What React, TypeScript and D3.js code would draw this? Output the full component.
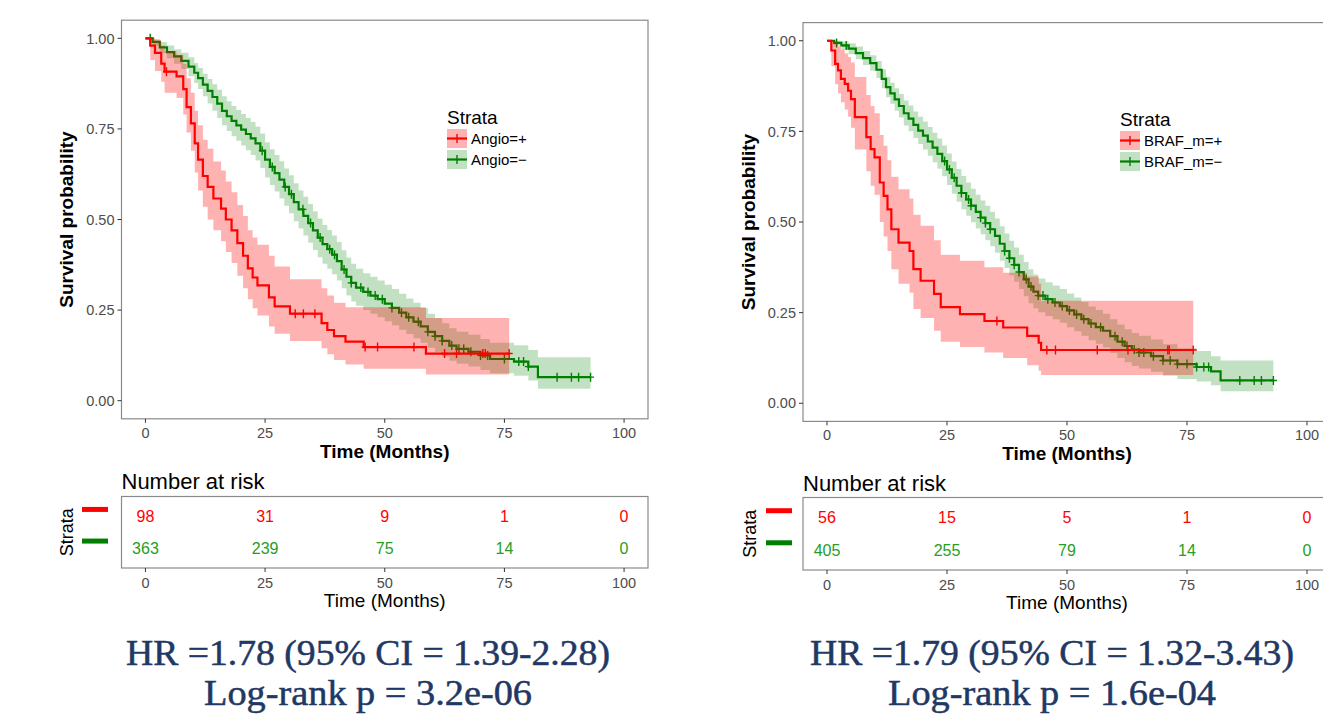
import React from 'react';
import * as d3 from 'd3';

// ---------- values ----------
const xTicks = [0, 25, 50, 75, 100];
const yTicks = [0, 0.25, 0.5, 0.75, 1];
const riskTimes = [0, 25, 50, 75, 100];

// Angio=+ (red)
const angioPosTime = [0, 1.0, 2.0, 3.3, 4.0, 6.5, 7.9, 8.6, 9.5, 10.3, 11.0, 12.0, 13.0, 14.2, 15.8, 16.8, 18.0, 19.2, 20.4, 21.4, 22.4, 23.4, 25.8, 27.0, 30.2, 36.8, 38.0, 39.4, 41.8, 45.6, 58.6];
const angioPosSurv = [1.0, 0.98, 0.96, 0.93, 0.908, 0.895, 0.86, 0.81, 0.765, 0.71, 0.665, 0.62, 0.59, 0.558, 0.53, 0.5, 0.47, 0.435, 0.4, 0.365, 0.34, 0.318, 0.285, 0.26, 0.24, 0.214, 0.195, 0.178, 0.163, 0.148, 0.13];
const angioPosLower = [1.0, 0.94, 0.91, 0.88, 0.85, 0.835, 0.79, 0.74, 0.69, 0.63, 0.58, 0.535, 0.5, 0.47, 0.44, 0.41, 0.38, 0.345, 0.31, 0.28, 0.255, 0.235, 0.205, 0.185, 0.165, 0.145, 0.128, 0.112, 0.1, 0.088, 0.072];
const angioPosUpper = [1.0, 1.0, 0.995, 0.98, 0.965, 0.955, 0.93, 0.89, 0.85, 0.8, 0.76, 0.72, 0.695, 0.66, 0.635, 0.605, 0.575, 0.54, 0.51, 0.47, 0.45, 0.43, 0.4, 0.37, 0.335, 0.31, 0.29, 0.27, 0.258, 0.258, 0.228];
const angioPosCensor = [4.4, 31.3, 33.0, 35.4, 45.9, 48.5, 56.1, 62.5, 65.0, 70.5, 71.0, 76.0];
const angioPosEnd = 76.0;

// Angio=- (green)
const angioNegTime = [0, 1.5, 3, 4.5, 6, 7.5, 9, 10.2, 11, 12, 13, 14, 15, 16, 17, 18, 19, 20, 21, 22, 23, 24, 25, 26, 27, 28, 29, 30, 31, 32, 33, 34, 35, 36, 37, 38, 39, 40, 41, 42, 43, 44, 45.5, 47, 48.5, 50, 51.5, 53, 54.5, 56, 57.5, 59, 60.5, 62, 63.5, 65, 67.5, 70, 72, 77, 80, 82];
const angioNegSurv = [1.0, 0.99, 0.975, 0.962, 0.95, 0.938, 0.922, 0.905, 0.89, 0.872, 0.855, 0.838, 0.82, 0.8, 0.785, 0.772, 0.76, 0.748, 0.736, 0.724, 0.71, 0.69, 0.665, 0.645, 0.628, 0.61, 0.59, 0.57, 0.548, 0.528, 0.51, 0.49, 0.47, 0.45, 0.432, 0.418, 0.403, 0.385, 0.362, 0.342, 0.325, 0.312, 0.3, 0.29, 0.28, 0.268, 0.256, 0.243, 0.23, 0.218, 0.205, 0.19, 0.178, 0.165, 0.152, 0.143, 0.135, 0.125, 0.115, 0.108, 0.094, 0.065];
const angioNegLower = [1.0, 0.98, 0.96, 0.945, 0.93, 0.915, 0.895, 0.877, 0.86, 0.84, 0.82, 0.8, 0.78, 0.76, 0.744, 0.73, 0.717, 0.704, 0.691, 0.678, 0.663, 0.642, 0.616, 0.595, 0.577, 0.558, 0.538, 0.517, 0.495, 0.475, 0.456, 0.436, 0.416, 0.396, 0.378, 0.364, 0.349, 0.332, 0.31, 0.29, 0.274, 0.262, 0.25, 0.24, 0.23, 0.219, 0.208, 0.196, 0.184, 0.172, 0.16, 0.146, 0.134, 0.122, 0.11, 0.102, 0.094, 0.085, 0.076, 0.069, 0.056, 0.033];
const angioNegUpper = [1.0, 0.998, 0.99, 0.98, 0.97, 0.96, 0.948, 0.932, 0.918, 0.902, 0.888, 0.873, 0.858, 0.84, 0.826, 0.813, 0.802, 0.791, 0.78, 0.769, 0.756, 0.737, 0.713, 0.694, 0.678, 0.661, 0.641, 0.622, 0.6, 0.58, 0.563, 0.543, 0.523, 0.503, 0.485, 0.471, 0.456, 0.438, 0.415, 0.395, 0.378, 0.364, 0.352, 0.342, 0.332, 0.32, 0.308, 0.295, 0.282, 0.27, 0.256, 0.24, 0.228, 0.214, 0.2, 0.19, 0.182, 0.17, 0.16, 0.153, 0.14, 0.12];
const angioNegCensor = [1, 24.4, 26.5, 29.2, 30.5, 32.9, 34.5, 36.5, 38.5, 39.5, 41.5, 43, 45, 46.5, 48, 49.5, 51.5, 53.5, 55, 57, 59, 60.5, 62, 64, 65.5, 66.5, 68, 70, 71.5, 75, 78, 79, 80, 86, 89, 90.5, 93];
const angioNegEnd = 93;

const angioRiskPos = [98, 31, 9, 1, 0];
const angioRiskNeg = [363, 239, 75, 14, 0];

// BRAF_m=+ (red)
const brafPosTime = [0, 0.9, 1.7, 2.3, 2.9, 3.7, 4.4, 5.0, 5.8, 8.2, 9.1, 9.9, 11.0, 11.8, 12.6, 13.4, 14.9, 17.2, 18.0, 19.5, 22.3, 23.7, 27.7, 32.8, 36.7, 41.7, 44.1, 44.6];
const brafPosSurv = [1.0, 0.973, 0.936, 0.918, 0.895, 0.881, 0.862, 0.839, 0.789, 0.734, 0.701, 0.678, 0.609, 0.572, 0.535, 0.48, 0.443, 0.42, 0.37, 0.338, 0.302, 0.265, 0.246, 0.227, 0.209, 0.186, 0.167, 0.147];
const brafPosLower = [1.0, 0.93, 0.88, 0.855, 0.83, 0.81, 0.79, 0.76, 0.7, 0.64, 0.6, 0.575, 0.5, 0.46, 0.42, 0.37, 0.33, 0.305, 0.26, 0.235, 0.2, 0.17, 0.155, 0.14, 0.125, 0.105, 0.09, 0.078];
const brafPosUpper = [1.0, 1.0, 0.995, 0.985, 0.975, 0.965, 0.955, 0.94, 0.9, 0.85, 0.82, 0.8, 0.74, 0.71, 0.67, 0.625, 0.59, 0.565, 0.52, 0.49, 0.45, 0.41, 0.393, 0.375, 0.36, 0.35, 0.33, 0.283];
const brafPosCensor = [35.4, 45.8, 47.6, 56.3, 62.7, 71.0, 71.3, 76.3];
const brafPosEnd = 76.3;

// BRAF_m=- (green)
const brafNegTime = [0, 1.5, 3, 4.5, 6, 7.5, 9, 10.3, 11.4, 12.3, 13.2, 14.1, 15, 16, 17, 18, 19, 20, 21, 22, 23, 24, 25, 26, 27, 28, 29, 30, 31, 32, 33, 34, 35, 36, 37, 38, 39, 40, 41, 42, 43, 44, 45.5, 47, 48.5, 50, 51.5, 53, 54.5, 56, 57.5, 59, 60.5, 62, 63.5, 65, 67.5, 70, 73, 77, 80, 82];
const brafNegSurv = [1.0, 0.994, 0.987, 0.978, 0.966, 0.952, 0.938, 0.92, 0.895, 0.872, 0.855, 0.838, 0.82, 0.8, 0.785, 0.768, 0.752, 0.738, 0.722, 0.705, 0.688, 0.668, 0.645, 0.622, 0.6, 0.58, 0.562, 0.545, 0.528, 0.512, 0.497, 0.48, 0.462, 0.44, 0.42, 0.4, 0.382, 0.362, 0.342, 0.322, 0.308, 0.297, 0.287, 0.278, 0.268, 0.256, 0.245, 0.232, 0.22, 0.21, 0.2, 0.185, 0.17, 0.158, 0.148, 0.14, 0.13, 0.118, 0.108, 0.1, 0.088, 0.063];
const brafNegLower = [1.0, 0.986, 0.975, 0.963, 0.949, 0.933, 0.917, 0.897, 0.869, 0.844, 0.826, 0.807, 0.788, 0.766, 0.75, 0.732, 0.715, 0.7, 0.683, 0.665, 0.647, 0.626, 0.602, 0.578, 0.556, 0.535, 0.517, 0.499, 0.482, 0.466, 0.45, 0.433, 0.415, 0.393, 0.373, 0.353, 0.335, 0.315, 0.295, 0.276, 0.262, 0.251, 0.241, 0.232, 0.222, 0.21, 0.199, 0.186, 0.174, 0.164, 0.154, 0.139, 0.125, 0.113, 0.103, 0.096, 0.087, 0.076, 0.067, 0.06, 0.05, 0.033];
const brafNegUpper = [1.0, 1.0, 0.998, 0.993, 0.984, 0.972, 0.96, 0.944, 0.921, 0.9, 0.884, 0.869, 0.853, 0.835, 0.821, 0.805, 0.79, 0.777, 0.762, 0.746, 0.73, 0.711, 0.689, 0.667, 0.646, 0.627, 0.609, 0.592, 0.575, 0.559, 0.545, 0.528, 0.51, 0.488, 0.468, 0.448, 0.43, 0.41, 0.39, 0.37, 0.355, 0.344, 0.334, 0.325, 0.315, 0.303, 0.292, 0.279, 0.267, 0.257, 0.247, 0.232, 0.217, 0.204, 0.194, 0.186, 0.176, 0.163, 0.152, 0.144, 0.13, 0.118];
const brafNegCensor = [2, 4, 24.5, 25.5, 26.5, 28, 29.5, 30, 32, 33, 34, 37, 38, 39, 40, 41.5, 42.5, 44, 45, 46, 47.5, 49, 50.5, 52, 53.5, 55, 57, 60, 61.5, 62.5, 64, 65, 66, 68, 70, 71.5, 73, 75, 77, 78.5, 79.5, 86, 89, 90.5, 93];
const brafNegEnd = 93;

const brafRiskPos = [56, 15, 5, 1, 0];
const brafRiskNeg = [405, 255, 79, 14, 0];

// ---------- styling ----------
const RED = '#ff0000';
const GREEN = '#008000';
const RED_FILL = 'rgba(255,0,0,0.3)';
const GREEN_FILL = 'rgba(0,128,0,0.24)';
const RED_TXT = '#ff0000';
const GREEN_TXT = '#269e26';
const SANS = '"Liberation Sans", Arial, Helvetica, sans-serif';
const SERIF = '"Liberation Serif", "Times New Roman", serif';
const NAVY = '#1f3864';

type Stratum = {
  label: string; line: string; fill: string; txt: string;
  time: number[]; surv: number[]; lower: number[]; upper: number[];
  censor: number[]; end: number; risk: number[];
};

type Layout = {
  px0: number; px1: number; py0: number; py1: number;
  ry0: number; ry1: number; yTitleX: number; legX: number; legY: number;
  riskTitleY: number; strataX: number; dashX: number; hrX: number;
};

const LEFT: Layout = { px0: 121.5, px1: 648, py0: 20.2, py1: 418.8, ry0: 496.5, ry1: 568, yTitleX: 73, legX: 447, legY: 124, riskTitleY: 489, strataX: 73, dashX: 82, hrX: 368 };
const RIGHT: Layout = { px0: 803, px1: 1331, py0: 22.6, py1: 421.4, ry0: 497.5, ry1: 570, yTitleX: 755, legX: 1120, legY: 126, riskTitleY: 490.5, strataX: 756, dashX: 766, hrX: 1052 };

const Panel = ({ L, strata, hr, pval }: { L: Layout; strata: Stratum[]; hr: string; pval: string }) => {
  const x = d3.scaleLinear().domain([-5, 105]).range([L.px0, L.px1]);
  const y = d3.scaleLinear().domain([-0.05, 1.05]).range([L.py1, L.py0]);
  const ry = d3.scalePoint<string>().domain(strata.map(s => s.label)).range([L.ry0, L.ry1]).padding(0.63);
  const plotMidX = x(50);
  const clipId = `clip-${L.hrX}`;

  const line = d3.line<[number, number]>().x(d => x(d[0])).y(d => y(d[1])).curve(d3.curveStepAfter);
  const area = d3.area<[number, number, number]>().x(d => x(d[0])).y0(d => y(d[1])).y1(d => y(d[2])).curve(d3.curveStepAfter);

  // green drawn first so the red band tints the green line where they overlap
  const layers = [...strata].reverse().map(s => {
    const n = s.time.length;
    const pts: [number, number][] = s.time.map((t, i) => [t, s.surv[i]]);
    pts.push([s.end, s.surv[n - 1]]);
    const band: [number, number, number][] = s.time.map((t, i) => [t, s.lower[i], s.upper[i]]);
    band.push([s.end, s.lower[n - 1], s.upper[n - 1]]);
    const marks = s.censor.map(c => {
      const i = Math.max(0, d3.bisectRight(s.time, c) - 1);
      return [x(c), y(s.surv[i])];
    });
    return (
      <g key={s.label}>
        <path d={area(band) || ''} fill={s.fill} stroke="none" />
        <path d={line(pts) || ''} fill="none" stroke={s.line} strokeWidth={2.2} />
        {marks.map(([cx, cy], i) => (
          <path key={i} d={`M${cx - 3.5},${cy}h7M${cx},${cy - 4.5}v9`} stroke={s.line} strokeWidth={1.4} fill="none" />
        ))}
      </g>
    );
  });

  return (
    <g>
      <defs>
        <clipPath id={clipId}>
          <rect x={L.px0} y={L.py0} width={L.px1 - L.px0} height={L.py1 - L.py0} />
        </clipPath>
      </defs>
      <g clipPath={`url(#${clipId})`}>{layers}</g>
      <rect x={L.px0} y={L.py0} width={L.px1 - L.px0} height={L.py1 - L.py0} fill="none" stroke="#8a8a8a" strokeWidth={1.2} />
      {yTicks.map(v => (
        <g key={v}>
          <line x1={L.px0 - 4} x2={L.px0} y1={y(v)} y2={y(v)} stroke="#333" strokeWidth={1} />
          <text x={L.px0 - 7} y={y(v)} dy="0.36em" textAnchor="end" fontSize={14.5} fill="#4d4d4d" fontFamily={SANS}>{v.toFixed(2)}</text>
        </g>
      ))}
      {xTicks.map(v => (
        <g key={v}>
          <line x1={x(v)} x2={x(v)} y1={L.py1} y2={L.py1 + 4} stroke="#333" strokeWidth={1} />
          <text x={x(v)} y={L.py1 + 19} textAnchor="middle" fontSize={14.5} fill="#4d4d4d" fontFamily={SANS}>{v}</text>
        </g>
      ))}
      <text x={plotMidX} y={L.py1 + 39} textAnchor="middle" fontSize={19} fontWeight="bold" fontFamily={SANS} fill="#000">Time (Months)</text>
      <text transform={`translate(${L.yTitleX},${(L.py0 + L.py1) / 2}) rotate(-90)`} textAnchor="middle" fontSize={19} fontWeight="bold" fontFamily={SANS} fill="#000">Survival probability</text>

      {/* legend */}
      <text x={L.legX} y={L.legY} fontSize={19} fontFamily={SANS} fill="#000">Strata</text>
      {strata.map((s, i) => {
        const ky = L.legY + 5 + i * 21;
        return (
          <g key={s.label}>
            <rect x={L.legX} y={ky} width={20} height={19} fill={s.fill} />
            <line x1={L.legX} x2={L.legX + 20} y1={ky + 9.5} y2={ky + 9.5} stroke={s.line} strokeWidth={2.2} />
            <line x1={L.legX + 10} x2={L.legX + 10} y1={ky + 5} y2={ky + 14} stroke={s.line} strokeWidth={1.4} />
            <text x={L.legX + 24} y={ky + 9.5} dy="0.36em" fontSize={15} fontFamily={SANS} fill="#000">{s.label}</text>
          </g>
        );
      })}

      {/* risk table */}
      <text x={L.px0} y={L.riskTitleY} fontSize={22} fontFamily={SANS} fill="#000">Number at risk</text>
      <rect x={L.px0} y={L.ry0} width={L.px1 - L.px0} height={L.ry1 - L.ry0} fill="none" stroke="#8a8a8a" strokeWidth={1.2} />
      {strata.map(s => (
        <g key={s.label}>
          <rect x={L.dashX} y={(ry(s.label) || 0) - 9.5} width={26} height={5} fill={s.line} />
          {riskTimes.map((t, i) => (
            <text key={t} x={x(t)} y={ry(s.label) || 0} dy="0.36em" textAnchor="middle" fontSize={16} fontFamily={SANS} fill={s.txt}>{s.risk[i]}</text>
          ))}
        </g>
      ))}
      <text transform={`translate(${L.strataX},${(L.ry0 + L.ry1) / 2}) rotate(-90)`} textAnchor="middle" fontSize={18} fontFamily={SANS} fill="#000">Strata</text>
      {xTicks.map(v => (
        <g key={v}>
          <line x1={x(v)} x2={x(v)} y1={L.ry1} y2={L.ry1 + 4} stroke="#333" strokeWidth={1} />
          <text x={x(v)} y={L.ry1 + 20} textAnchor="middle" fontSize={14.5} fill="#4d4d4d" fontFamily={SANS}>{v}</text>
        </g>
      ))}
      <text x={plotMidX} y={L.ry1 + 39} textAnchor="middle" fontSize={19} fontFamily={SANS} fill="#000">Time (Months)</text>

      {/* summary statistics */}
      <text x={L.hrX} y={665} textAnchor="middle" fontSize={35} textLength={484} lengthAdjust="spacingAndGlyphs" fontFamily={SERIF} fill={NAVY} stroke={NAVY} strokeWidth={0.5}>{hr}</text>
      <text x={L.hrX} y={705} textAnchor="middle" fontSize={35} textLength={328} lengthAdjust="spacingAndGlyphs" fontFamily={SERIF} fill={NAVY} stroke={NAVY} strokeWidth={0.5}>{pval}</text>
    </g>
  );
};

const angioStrata: Stratum[] = [
  { label: 'Angio=+', line: RED, fill: RED_FILL, txt: RED_TXT, time: angioPosTime, surv: angioPosSurv, lower: angioPosLower, upper: angioPosUpper, censor: angioPosCensor, end: angioPosEnd, risk: angioRiskPos },
  { label: 'Angio=\u2212', line: GREEN, fill: GREEN_FILL, txt: GREEN_TXT, time: angioNegTime, surv: angioNegSurv, lower: angioNegLower, upper: angioNegUpper, censor: angioNegCensor, end: angioNegEnd, risk: angioRiskNeg },
];

const brafStrata: Stratum[] = [
  { label: 'BRAF_m=+', line: RED, fill: RED_FILL, txt: RED_TXT, time: brafPosTime, surv: brafPosSurv, lower: brafPosLower, upper: brafPosUpper, censor: brafPosCensor, end: brafPosEnd, risk: brafRiskPos },
  { label: 'BRAF_m=\u2212', line: GREEN, fill: GREEN_FILL, txt: GREEN_TXT, time: brafNegTime, surv: brafNegSurv, lower: brafNegLower, upper: brafNegUpper, censor: brafNegCensor, end: brafNegEnd, risk: brafRiskNeg },
];

export default function App() {
  return (
    <svg width={1323} height={719} style={{ position: 'absolute', left: 0, top: 0, background: '#fff' }}>
      <rect width={1323} height={719} fill="#fff" />
      <Panel L={LEFT} strata={angioStrata} hr="HR =1.78 (95% CI = 1.39-2.28)" pval="Log-rank p = 3.2e-06" />
      <Panel L={RIGHT} strata={brafStrata} hr="HR =1.79 (95% CI = 1.32-3.43)" pval="Log-rank p = 1.6e-04" />
    </svg>
  );
}
